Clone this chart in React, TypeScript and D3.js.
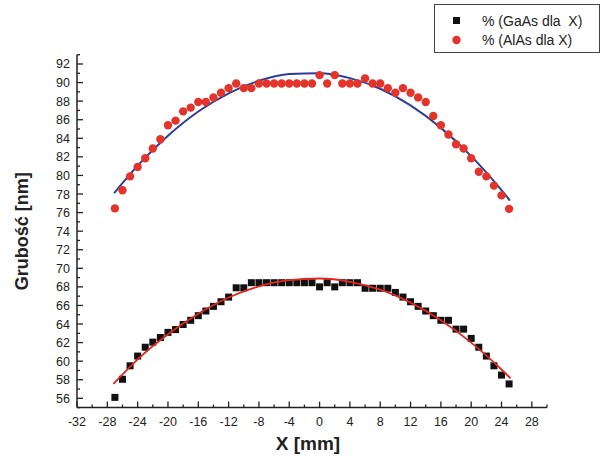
import React from "react";
import * as d3 from "d3";

// ---- data ----
const xGaAs = [-27,-26,-25,-24,-23,-22,-21,-20,-19,-18,-17,-16,-15,-14,-13,-12,-11,-10,-9,-8,-7,-6,-5,-4,-3,-2,-1,0,1,2,3,4,5,6,7,8,9,10,11,12,13,14,15,16,17,18,19,20,21,22,23,24,25];
const yGaAs = [56.1,58.05,59.5,60.55,61.5,62.05,62.55,63.1,63.4,63.95,64.4,64.9,65.4,65.9,66.4,66.9,67.9,67.9,68.45,68.45,68.45,68.45,68.45,68.45,68.45,68.45,68.45,68.0,68.45,68.0,68.45,68.45,68.45,67.85,67.85,67.85,67.85,67.4,66.9,66.4,65.9,65.4,64.9,64.4,64.4,63.45,63.45,62.45,61.5,60.55,59.5,58.5,57.55];

const xAlAs = [-27,-26,-25,-24,-23,-22,-21,-20,-19,-18,-17,-16,-15,-14,-13,-12,-11,-10,-9,-8,-7,-6,-5,-4,-3,-2,-1,0,1,2,3,4,5,6,7,8,9,10,11,12,13,14,15,16,17,18,19,20,21,22,23,24,25];
const yAlAs = [76.45,78.4,79.9,80.9,81.85,82.9,83.9,85.4,85.9,86.9,87.3,87.9,87.9,88.4,88.9,89.4,89.9,89.4,89.4,89.9,89.9,89.9,89.9,89.9,89.9,89.9,89.9,90.8,89.9,90.8,89.9,89.9,89.9,90.45,89.9,89.9,89.4,88.9,89.4,88.9,88.4,87.9,86.4,85.4,84.4,83.35,82.9,81.85,80.4,79.9,78.9,77.85,76.4];

// fitted curves
const fitGaAsX = [-27.2,-24,-20,-16,-12,-8,-4,0,4,8,12,16,20,24,25.2];
const fitGaAsY = [57.55,60.2,62.9,65.1,66.85,68.05,68.72,68.9,68.55,67.7,66.3,64.4,62.0,59.1,58.15];
const fitAlAsX = [-27.1,-24,-20,-16,-12,-8,-4,0,4,8,12,16,20,24,25.1];
const fitAlAsY = [78.1,81.05,84.27,86.88,88.84,90.19,90.92,91.01,90.48,89.33,87.54,85.12,82.08,78.41,77.3];

const xMajorTicks = [-32,-28,-24,-20,-16,-12,-8,-4,0,4,8,12,16,20,24,28];
const xMinorTicks = [-30,-26,-22,-18,-14,-10,-6,-2,2,6,10,14,18,22,26,30];
const yMajorTicks = [56,58,60,62,64,66,68,70,72,74,76,78,80,82,84,86,88,90,92];
const yMinorTicks = [55,57,59,61,63,65,67,69,71,73,75,77,79,81,83,85,87,89,91,93];

const legendLabels = ["% (GaAs dla  X)", "% (AlAs dla X)"];
const xTitle = "X [mm]";
const yTitle = "Grubość [nm]";

export default function App() {
  const W = 604, H = 456;
  const x = d3.scaleLinear().domain([-32, 30]).range([77, 547]);
  const y = d3.scaleLinear().domain([55, 93]).range([407.6, 54.7]);
  const font = "'Liberation Sans', Arial, sans-serif";

  const gaas = xGaAs.map((v, i) => [v, yGaAs[i]] as [number, number]);
  const alas = xAlAs.map((v, i) => [v, yAlAs[i]] as [number, number]);
  const line = d3.line<[number, number]>().x(d => x(d[0])).y(d => y(d[1])).curve(d3.curveMonotoneX);
  const fitG = line(fitGaAsX.map((v, i) => [v, fitGaAsY[i]] as [number, number])) || "";
  const fitA = line(fitAlAsX.map((v, i) => [v, fitAlAsY[i]] as [number, number])) || "";

  const x0 = x(-32), y0 = y(55);
  const sq = 7;
  const red = "#e3342b";
  const blue = "#2b3d97";

  return (
    <svg width={W} height={H} style={{ position: "absolute", left: 0, top: 0, background: "#fff" }}>
      <rect x={0} y={0} width={W} height={H} fill="#fff" />
      {/* fitted lines */}
      <path d={fitA} fill="none" stroke={blue} strokeWidth={2} />
      {/* points */}
      {alas.map((d, i) => (
        <circle key={"a" + i} cx={x(d[0])} cy={y(d[1])} r={4.2} fill={red} />
      ))}
      {gaas.map((d, i) => (
        <rect key={"g" + i} x={x(d[0]) - sq / 2} y={y(d[1]) - sq / 2} width={sq} height={sq} fill="#111" />
      ))}
      <path d={fitG} fill="none" stroke="#e0261f" strokeWidth={1.8} />

      {/* axes */}
      <line x1={x0} x2={x0} y1={y(93)} y2={y0} stroke="#222" strokeWidth={1.5} />
      <line x1={x0} x2={x(30)} y1={y0} y2={y0} stroke="#222" strokeWidth={1.5} />
      {yMajorTicks.map(t => (
        <g key={"ym" + t}>
          <line x1={x0} x2={x0 + 6} y1={y(t)} y2={y(t)} stroke="#222" strokeWidth={1.3} />
          <text x={x0 - 7} y={y(t)} dy="0.36em" textAnchor="end" fontSize={12.5} fontFamily={font} fill="#222">{t}</text>
        </g>
      ))}
      {yMinorTicks.map(t => (
        <line key={"yn" + t} x1={x0} x2={x0 + 3} y1={y(t)} y2={y(t)} stroke="#222" strokeWidth={1.3} />
      ))}
      {xMajorTicks.map(t => (
        <g key={"xm" + t}>
          <line x1={x(t)} x2={x(t)} y1={y0} y2={y0 - 6} stroke="#222" strokeWidth={1.3} />
          <text x={x(t)} y={y0 + 14} dy="0.36em" textAnchor="middle" fontSize={12.5} fontFamily={font} fill="#222">{t}</text>
        </g>
      ))}
      {xMinorTicks.map(t => (
        <line key={"xn" + t} x1={x(t)} x2={x(t)} y1={y0} y2={y0 - 3} stroke="#222" strokeWidth={1.3} />
      ))}

      {/* titles */}
      <text x={308} y={450} textAnchor="middle" fontSize={19} fontWeight="bold" fontFamily={font} fill="#222">{xTitle}</text>
      <text transform={`translate(28, ${(y(93) + y0) / 2}) rotate(-90)`} textAnchor="middle" fontSize={18} fontWeight="bold" fontFamily={font} fill="#222">{yTitle}</text>

      {/* legend */}
      <rect x={434.5} y={4.5} width={165} height={48} fill="#fff" stroke="#444" strokeWidth={1} />
      <rect x={453} y={17} width={7} height={7} fill="#111" />
      <text x={482} y={20.5} dy="0.36em" fontSize={14} fontFamily={font} fill="#222" style={{ whiteSpace: "pre" }} xmlSpace="preserve">{legendLabels[0]}</text>
      <circle cx={456.5} cy={40} r={4.2} fill={red} />
      <text x={482} y={40} dy="0.36em" fontSize={14} fontFamily={font} fill="#222">{legendLabels[1]}</text>
    </svg>
  );
}
